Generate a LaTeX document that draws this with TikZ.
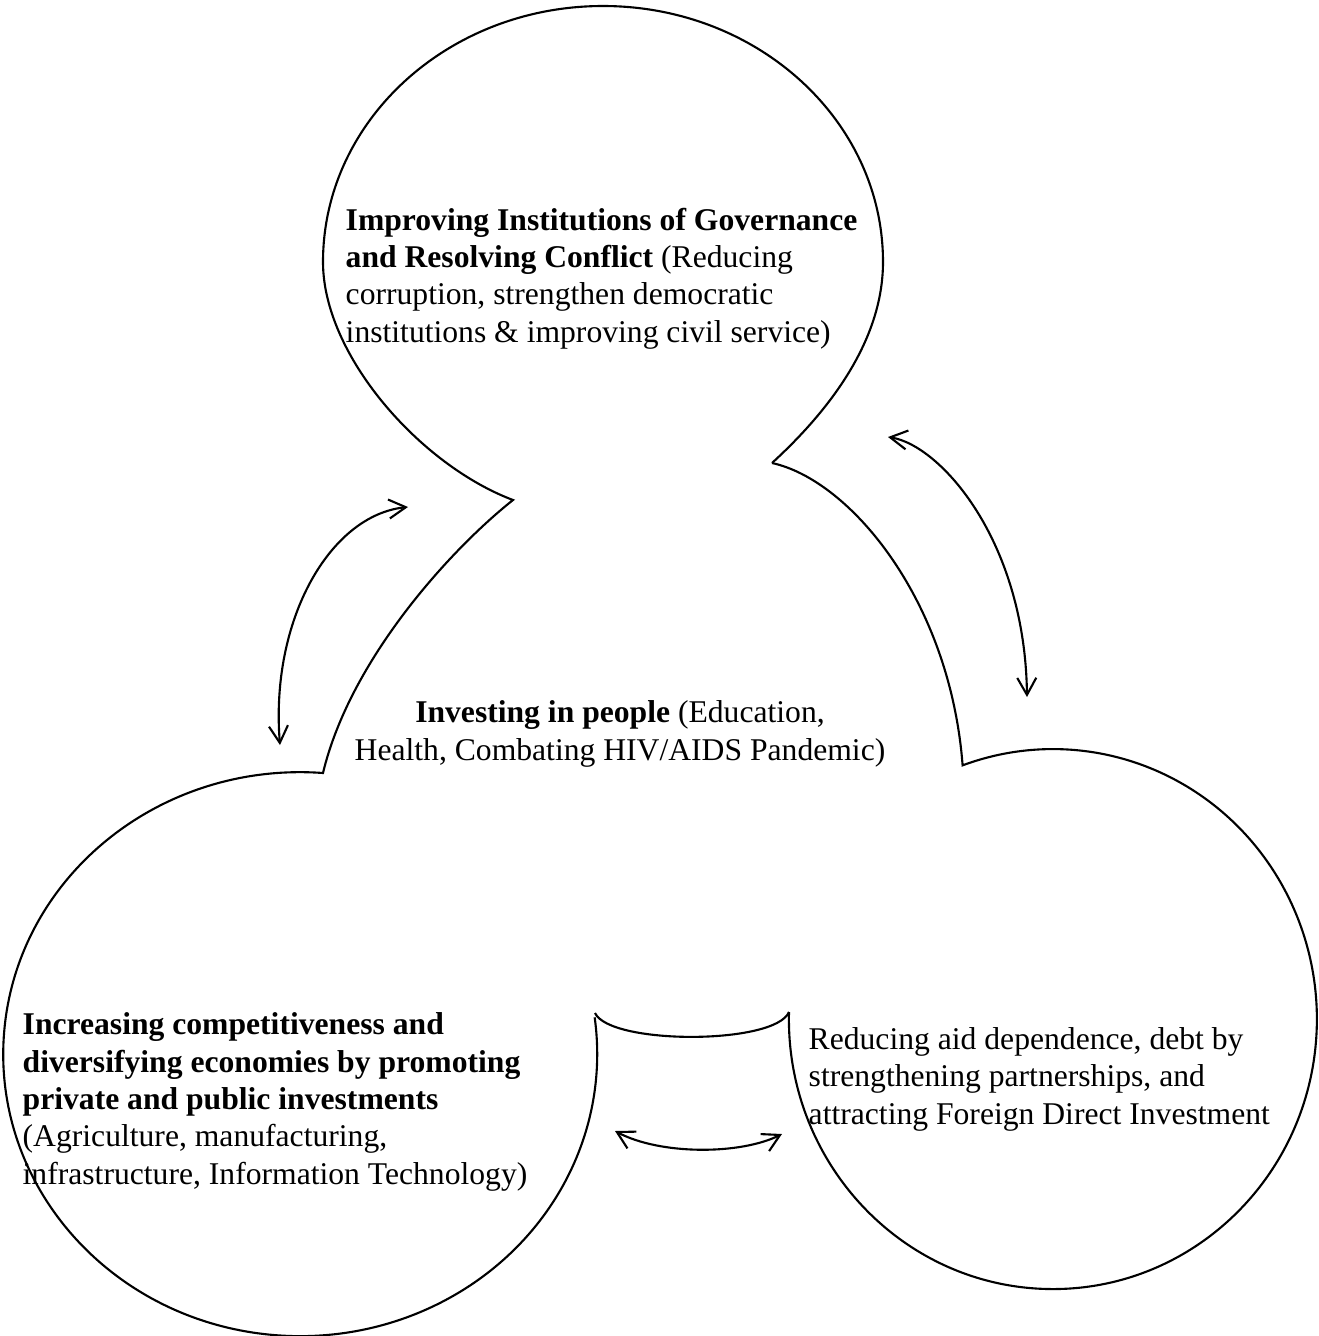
\documentclass[tikz,border=0pt]{standalone}
\usepackage{fontspec}
\setmainfont{Liberation Serif}
\usetikzlibrary{arrows.meta}

\tikzset{
  blob/.style={line width=0.6pt},
  link/.style={<->, >={Straight Barb[length=1.7mm,width=1.9mm]}, line width=0.6pt},
  txt/.style={inner sep=0pt, font=\fontsize{9}{10.6}\selectfont}
}

\begin{document}
\begin{tikzpicture}
  \useasboundingbox (0,0) rectangle (13.18,-13.36);

  % neck points of the three bubbles
  \coordinate (tl) at (5.13,-5.00);
  \coordinate (tr) at (7.72,-4.63);
  \coordinate (lt) at (3.23,-7.73);
  \coordinate (lr) at (5.95,-10.13);
  \coordinate (rl) at (7.89,-10.12);

  % top bubble, left neck and left bubble
  \draw[blob] (tr) .. controls (8.30,-4.10) and (8.83,-3.40) .. (8.83,-2.62)
    arc[start angle=0, end angle=180, x radius=2.80, y radius=2.56]
    .. controls (3.23,-3.55) and (4.20,-4.65) .. (tl)
    .. controls (4.50,-5.50) and (3.50,-6.60) .. (lt)
    arc[start angle=85.6, end angle=367.5, x radius=2.97, y radius=2.82];

  % bottom neck
  \draw[blob] (lr) .. controls (6.10,-10.45) and (7.75,-10.45) .. (rl);

  % right bubble and right neck
  \draw[blob] (rl) arc[start angle=178.5, end angle=470, x radius=2.64, y radius=2.70]
    .. controls (9.50,-6.00) and (8.50,-4.80) .. (tr);

  % double arrows
  \coordinate (a1) at (4.08,-5.07);
  \coordinate (a2) at (2.80,-7.45);
  \coordinate (b1) at (8.88,-4.37);
  \coordinate (b2) at (10.27,-6.97);
  \coordinate (c1) at (6.15,-11.31);
  \coordinate (c2) at (7.82,-11.34);
  \draw[link] (a1) .. controls (3.30,-5.15) and (2.70,-6.20) .. (a2);
  \draw[link] (b1) .. controls (9.40,-4.45) and (10.25,-5.40) .. (b2);
  \draw[link] (c1) .. controls (6.60,-11.55) and (7.40,-11.55) .. (c2);

  % texts (base = last line)
  \node[txt, anchor=base west, align=left] (gov) at (3.45,-3.42)
    {\textbf{Improving Institutions of Governance}\\
     \textbf{and Resolving Conflict} (Reducing\\
     corruption, strengthen democratic\\
     institutions \& improving civil service)};
  \node[txt, anchor=base, align=center] (people) at (6.20,-7.60)
    {\textbf{Investing in people} (Education,\\
     Health, Combating HIV/AIDS Pandemic)};
  \node[txt, anchor=base west, align=left] (econ) at (0.22,-11.84)
    {\textbf{Increasing competitiveness and}\\
     \textbf{diversifying economies by promoting}\\
     \textbf{private and public investments}\\
     (Agriculture, manufacturing,\\
     infrastructure, Information Technology)};
  \node[txt, anchor=base west, align=left] (aid) at (8.08,-11.24)
    {Reducing aid dependence, debt by\\
     strengthening partnerships, and\\
     attracting Foreign Direct Investment};
\end{tikzpicture}
\end{document}
